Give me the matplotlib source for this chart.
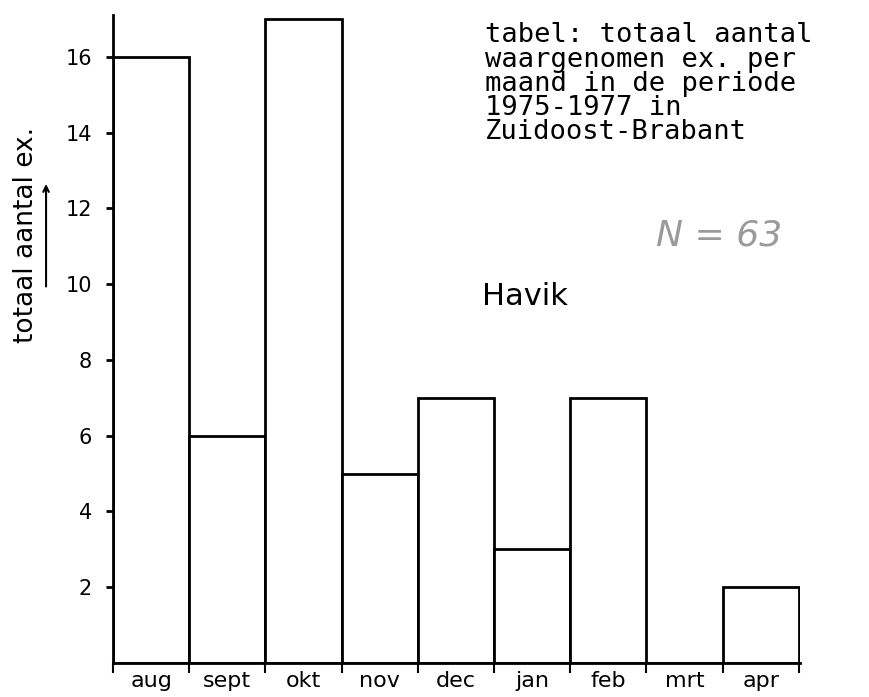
import numpy as np
import matplotlib.pyplot as plt

months = ['aug', 'sept', 'okt', 'nov', 'dec', 'jan', 'feb', 'mrt', 'apr']
counts = [16, 6, 17, 5, 7, 3, 7, 0, 2]
yticks = [2, 4, 6, 8, 10, 12, 14, 16]

table_text = ('tabel: totaal aantal\n'
              'waargenomen ex. per\n'
              'maand in de periode\n'
              '1975-1977 in\n'
              'Zuidoost-Brabant')

ind = np.arange(len(months))

fig = plt.figure(figsize=(8.69, 6.97), dpi=100)
ax = fig.add_axes([0.130, 0.049, 0.791, 0.929])

ax.bar(ind, counts, 1.0, color='white', edgecolor='black', linewidth=2)

ax.set_xlim(-0.5, len(months) - 0.48)
ax.set_ylim(0, 17.1)

ax.spines['top'].set_visible(False)
ax.spines['right'].set_visible(False)
ax.spines['left'].set_linewidth(2)
ax.spines['bottom'].set_linewidth(2)

ax.set_yticks(yticks)
ax.set_yticklabels([str(v) for v in yticks], fontsize=15)
ax.tick_params(axis='y', direction='out', length=5, width=2, pad=10)

ax.set_xticks(ind)
ax.set_xticklabels(months, fontsize=16)
ax.set_xticks(np.arange(len(months) + 1) - 0.5, minor=True)
ax.tick_params(axis='x', which='major', length=0, pad=6)
ax.tick_params(axis='x', which='minor', direction='out', length=7, width=1.5)

# hand-written y label with arrow
fig.text(0.030, 0.663, 'totaal aantal ex.', rotation=90, fontsize=19,
         ha='center', va='center')
ax.annotate('', xy=(0.053, 0.74), xytext=(0.053, 0.585),
            xycoords='figure fraction', textcoords='figure fraction',
            arrowprops=dict(arrowstyle='->', lw=1.5, color='black'))

fig.text(0.558, 0.968, table_text, family='DejaVu Sans Mono', fontsize=19.5,
         ha='left', va='top', linespacing=0.91)
fig.text(0.755, 0.662, 'N = 63', fontsize=26, style='italic', color='#9a9a9a',
         ha='left', va='center')
fig.text(0.555, 0.574, 'Havik', fontsize=22, ha='left', va='center')

fig.savefig('out.png', dpi=100, facecolor='white')
